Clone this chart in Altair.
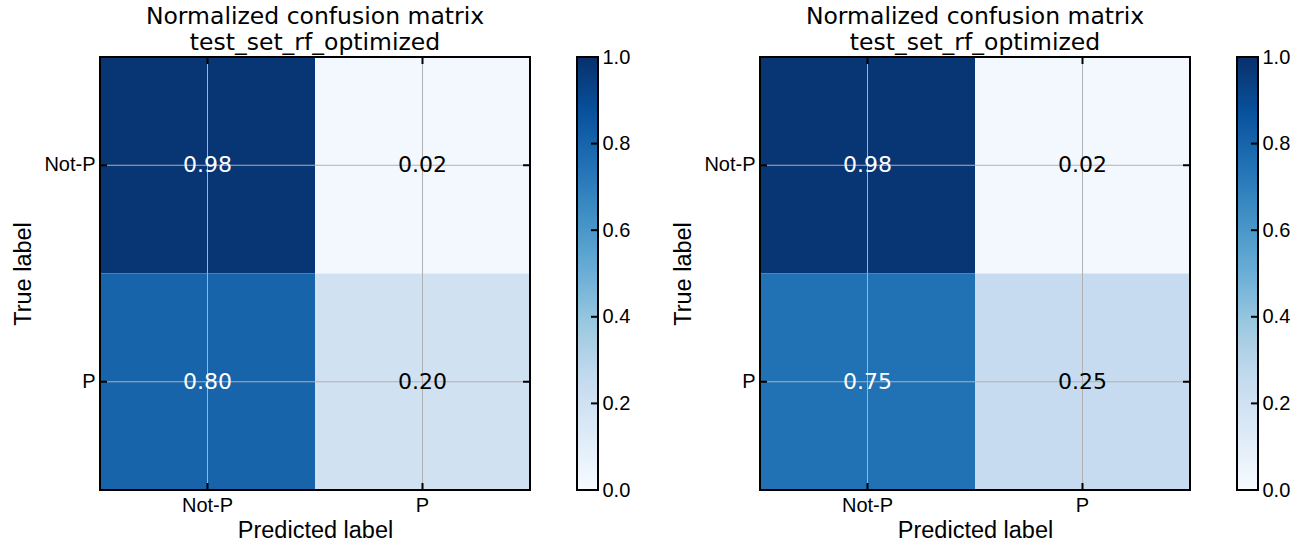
import altair as alt
import pandas as pd

classes = ["Not-P", "P"]
left_vals = [[0.98, 0.02], [0.80, 0.20]]
right_vals = [[0.98, 0.02], [0.75, 0.25]]
title_lines = ["Normalized confusion matrix", "test_set_rf_optimized"]
cbar_labels = [0.0, 0.2, 0.4, 0.6, 0.8, 1.0]
cbar_inner_ticks = [0.2, 0.4, 0.6, 0.8]
blues = ["#f7fbff", "#deebf7", "#c6dbef", "#9ecae1", "#6baed6",
         "#4292c6", "#2171b5", "#08519c", "#08306b"]
blues_stops = [i / 8 for i in range(9)]

W, H = 430, 433
CB_GAP, CBW = 47, 21
TICK = 7
FONT = "DejaVu Sans"
TITLE_SIZE = 23.5

color_scale = alt.Scale(domain=blues_stops, range=blues, interpolate="rgb")


def cm_df(vals):
    rows = []
    for i, t in enumerate(classes):
        for j, p in enumerate(classes):
            v = vals[i][j]
            rows.append({"true": t, "pred": p, "value": v, "label": f"{v:.2f}"})
    return pd.DataFrame(rows)


def heatmap(vals):
    df = cm_df(vals)
    xs = alt.Scale(domain=classes, paddingInner=0, paddingOuter=0)
    ys = alt.Scale(domain=classes, paddingInner=0, paddingOuter=0)
    cats = pd.DataFrame({"c": classes})

    rect = alt.Chart(df).mark_rect().encode(
        x=alt.X("pred:N", scale=xs, sort=classes,
                axis=alt.Axis(title="Predicted label", labelAngle=0, ticks=False,
                              domain=False, grid=False, labelFontSize=20,
                              titleFontSize=TITLE_SIZE, labelPadding=5, titlePadding=3,
                              titleFontWeight="normal")),
        y=alt.Y("true:N", scale=ys, sort=classes,
                axis=alt.Axis(title="True label", ticks=False, domain=False,
                              grid=False, labelFontSize=20, titleFontSize=TITLE_SIZE,
                              labelPadding=5, titlePadding=8,
                              titleFontWeight="normal")),
        color=alt.Color("value:Q", scale=color_scale, legend=None),
    )
    gx = alt.Chart(cats).mark_rule(color="#b0b0b0", strokeWidth=1).encode(
        x=alt.X("c:N", scale=xs, sort=classes))
    gy = alt.Chart(cats).mark_rule(color="#b0b0b0", strokeWidth=1).encode(
        y=alt.Y("c:N", scale=ys, sort=classes))
    tick_style = dict(color="black", strokeWidth=2)
    t_top = alt.Chart(cats).mark_rule(**tick_style).encode(
        x=alt.X("c:N", scale=xs, sort=classes), y=alt.value(0), y2=alt.value(TICK))
    t_bot = alt.Chart(cats).mark_rule(**tick_style).encode(
        x=alt.X("c:N", scale=xs, sort=classes), y=alt.value(H - TICK), y2=alt.value(H))
    t_left = alt.Chart(cats).mark_rule(**tick_style).encode(
        y=alt.Y("c:N", scale=ys, sort=classes), x=alt.value(0), x2=alt.value(TICK))
    t_right = alt.Chart(cats).mark_rule(**tick_style).encode(
        y=alt.Y("c:N", scale=ys, sort=classes), x=alt.value(W - TICK), x2=alt.value(W))
    frame = alt.Chart(cats).mark_rect(
        fill=None, stroke="black", strokeWidth=2).encode(
        x=alt.value(0), x2=alt.value(W), y=alt.value(0), y2=alt.value(H))
    text = alt.Chart(df).mark_text(fontSize=22, font=FONT).encode(
        x=alt.X("pred:N", scale=xs, sort=classes),
        y=alt.Y("true:N", scale=ys, sort=classes),
        text="label:N",
        color=alt.condition("datum.value > 0.5", alt.value("white"), alt.value("black")),
    )
    return alt.layer(rect, gx, gy, t_top, t_bot, t_left, t_right, frame, text)


def colorbar():
    x0, x1 = W + CB_GAP, W + CB_GAP + CBW
    ys = alt.Scale(domain=[0, 1], nice=False, zero=False)
    grad_fill = alt.Gradient(
        gradient="linear", x1=0, y1=1, x2=0, y2=0,
        stops=[alt.GradientStop(offset=o, color=c) for o, c in zip(blues_stops, blues)],
    )
    lab = pd.DataFrame({"t": cbar_labels})
    grad = alt.Chart(lab).mark_rect(fill=grad_fill, stroke="black", strokeWidth=2).encode(
        y=alt.Y("min(t):Q", scale=ys,
                axis=alt.Axis(orient="right", values=cbar_labels, format=".1f",
                              ticks=False, domain=False, grid=False, offset=CB_GAP + CBW,
                              labelFontSize=20, labelPadding=4, title=None,
                              labelFlush=False, labelOverlap=False)),
        y2="max(t):Q",
        x=alt.value(x0), x2=alt.value(x1),
    )
    ticks = alt.Chart(pd.DataFrame({"t": cbar_inner_ticks})).mark_rule(
        color="black", strokeWidth=2).encode(
        y=alt.Y("t:Q", scale=ys), x=alt.value(x1 - TICK), x2=alt.value(x1))
    return alt.layer(grad, ticks)


def panel(vals):
    return alt.layer(heatmap(vals), colorbar()).resolve_scale(
        y="independent"
    ).resolve_axis(y="independent").properties(
        width=W, height=H,
        title=alt.TitleParams(text=title_lines, fontSize=TITLE_SIZE, font=FONT,
                              fontWeight="normal", anchor="middle", offset=-7,
                              lineHeight=26, color="black"),
    )


chart = alt.hconcat(panel(left_vals), panel(right_vals), spacing=40).properties(
    padding={"left": 11, "top": 4, "right": 5, "bottom": 0}
).configure_view(
    stroke="black", strokeWidth=2
).configure_axis(
    labelFont=FONT, titleFont=FONT, labelColor="black", titleColor="black",
    labelFontSize=20, titleFontSize=TITLE_SIZE, titleFontWeight="normal"
).configure(background="white")

chart.save("out.html", embed_options={"renderer": "svg", "actions": False})
